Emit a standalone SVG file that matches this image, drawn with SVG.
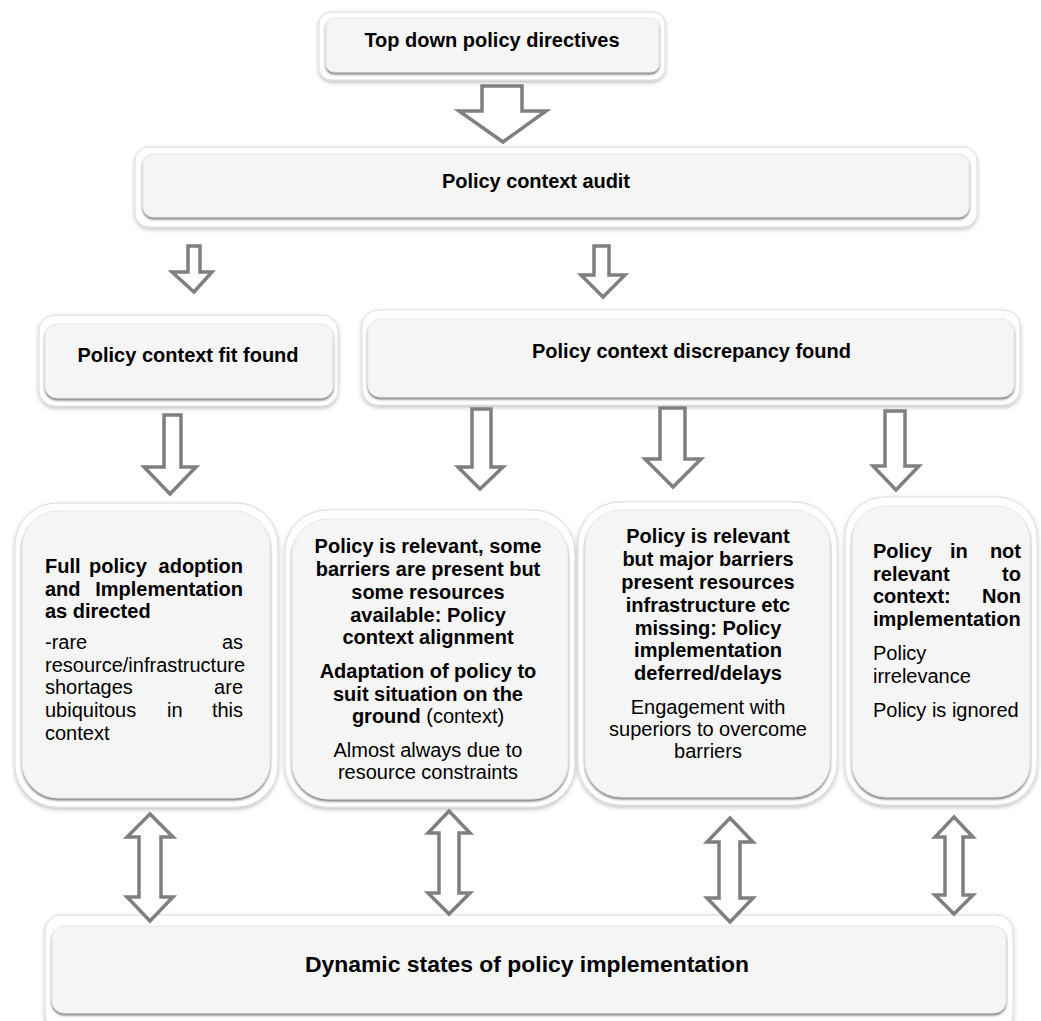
<svg xmlns="http://www.w3.org/2000/svg" width="1041" height="1021" viewBox="0 0 1041 1021">
<defs>
<filter id="outerShadow" x="-10%" y="-10%" width="120%" height="130%">
<feDropShadow dx="0" dy="2" stdDeviation="2" flood-color="#000" flood-opacity="0.25"/>
</filter>
<filter id="innerShadow" x="-5%" y="-5%" width="110%" height="120%">
<feDropShadow dx="0" dy="2" stdDeviation="1" flood-color="#666" flood-opacity="0.85"/>
</filter>
<style>
.outer{fill:#ffffff;stroke:#dcdcdc;stroke-width:1;filter:url(#outerShadow)}
.inner{fill:#f5f5f5;stroke:#e8e8e8;stroke-width:1;filter:url(#innerShadow)}
.arrow{fill:#ffffff;stroke:#7f7f7f;stroke-width:3.5;stroke-linejoin:miter}
text{font-family:"Liberation Sans",Arial,sans-serif;font-size:20px;fill:#000}
.b{font-weight:bold}
.c{text-anchor:middle}
.e{text-anchor:end}
</style>
</defs>
<rect width="1041" height="1021" fill="#ffffff"/>

<g id="node-top">
<rect class="outer" x="319" y="12" width="346" height="68" rx="12"/>
<rect class="inner" x="326" y="18" width="333" height="54" rx="8"/>
<text class="b c" x="492" y="47">Top down policy directives</text>
</g>

<g id="node-audit">
<rect class="outer" x="135" y="147" width="842" height="80" rx="14"/>
<rect class="inner" x="143" y="154" width="826" height="63" rx="10"/>
<text class="b" x="442" y="188" textLength="188">Policy context audit</text>
</g>

<g id="node-fit">
<rect class="outer" x="39" y="315" width="299" height="91" rx="16"/>
<rect class="inner" x="45" y="324" width="288" height="74" rx="12"/>
<text class="b c" x="188" y="362">Policy context fit found</text>
</g>

<g id="node-discrepancy">
<rect class="outer" x="362" y="310" width="658" height="95" rx="16"/>
<rect class="inner" x="368" y="319" width="646" height="78" rx="12"/>
<text class="b" x="532" y="358">Policy context discrepancy found</text>
</g>

<g id="node-full">
<rect class="outer" x="15" y="503" width="263" height="304" rx="42"/>
<rect class="inner" x="22" y="511" width="248" height="287" rx="36"/>
<text class="b" x="45" y="573">Full</text>
<text class="b" x="89" y="573">policy</text>
<text class="b e" x="243" y="573">adoption</text>
<text class="b" x="45" y="596">and</text>
<text class="b e" x="243" y="596">Implementation</text>
<text class="b" x="45" y="618">as directed</text>
<text x="45" y="649">-rare</text>
<text class="e" x="243" y="649">as</text>
<text x="45" y="672">resource/infrastructure</text>
<text x="45" y="694">shortages</text>
<text class="e" x="243" y="694">are</text>
<text x="45" y="717">ubiquitous</text>
<text x="167" y="717">in</text>
<text class="e" x="243" y="717">this</text>
<text x="45" y="740">context</text>
</g>

<g id="node-relevant-some">
<rect class="outer" x="285" y="510" width="290" height="297" rx="42"/>
<rect class="inner" x="292" y="519" width="276" height="280" rx="36"/>
<text class="b c" x="428" y="553">Policy is relevant, some</text>
<text class="b c" x="428" y="576">barriers are present but</text>
<text class="b c" x="428" y="599">some resources</text>
<text class="b c" x="428" y="622">available: Policy</text>
<text class="b c" x="428" y="644">context alignment</text>
<text class="b c" x="428" y="678">Adaptation of policy to</text>
<text class="b c" x="428" y="701">suit situation on the</text>
<text class="c" x="428" y="723"><tspan class="b">ground</tspan> (context)</text>
<text class="c" x="428" y="757">Almost always due to</text>
<text class="c" x="428" y="779">resource constraints</text>
</g>

<g id="node-relevant-major">
<rect class="outer" x="578" y="502" width="259" height="303" rx="42"/>
<rect class="inner" x="585" y="510" width="245" height="287" rx="36"/>
<text class="b c" x="708" y="543">Policy is relevant</text>
<text class="b c" x="708" y="566">but major barriers</text>
<text class="b c" x="708" y="589">present resources</text>
<text class="b c" x="708" y="612">infrastructure etc</text>
<text class="b c" x="708" y="635">missing: Policy</text>
<text class="b c" x="708" y="657">implementation</text>
<text class="b c" x="708" y="680">deferred/delays</text>
<text class="c" x="708" y="714">Engagement with</text>
<text class="c" x="708" y="736">superiors to overcome</text>
<text class="c" x="708" y="758">barriers</text>
</g>

<g id="node-not-relevant">
<rect class="outer" x="845" y="497" width="192" height="308" rx="40"/>
<rect class="inner" x="852" y="506" width="178" height="291" rx="34"/>
<text class="b" x="873" y="558">Policy</text>
<text class="b" x="950" y="558">in</text>
<text class="b e" x="1021" y="558">not</text>
<text class="b" x="873" y="581">relevant</text>
<text class="b e" x="1021" y="581">to</text>
<text class="b" x="873" y="603">context:</text>
<text class="b e" x="1021" y="603">Non</text>
<text class="b" x="873" y="626">implementation</text>
<text x="873" y="660">Policy</text>
<text x="873" y="683">irrelevance</text>
<text x="873" y="717">Policy is ignored</text>
</g>

<g id="node-dynamic">
<rect class="outer" x="45" y="915" width="968" height="115" rx="16"/>
<rect class="inner" x="52" y="926" width="954" height="87" rx="12"/>
<text class="b" x="305" y="972" style="font-size:22px" textLength="444" lengthAdjust="spacingAndGlyphs">Dynamic states of policy implementation</text>
</g>

<g id="connectors">
<path class="arrow" d="M482,86 L522,86 L522,111 L546,111 L503,142 L459,111 L482,111 Z"/>
<path class="arrow" d="M188,246 L200,246 L200,272 L212,272 L194,292 L172,272 L188,272 Z"/>
<path class="arrow" d="M594,246 L609,246 L609,275 L625,275 L603,297 L581,275 L594,275 Z"/>
<path class="arrow" d="M164,415 L181,415 L181,467 L196,467 L170,494 L144,467 L164,467 Z"/>
<path class="arrow" d="M472,409 L491,409 L491,467 L503,467 L480,489 L458,467 L472,467 Z"/>
<path class="arrow" d="M660,408 L685,408 L685,459 L701,459 L673,487 L645,459 L660,459 Z"/>
<path class="arrow" d="M885,411 L905,411 L905,466 L919,466 L896,490 L873,466 L885,466 Z"/>
<path class="arrow" d="M150,814 L173,837 L161,837 L161,897 L173,897 L150,921 L127,897 L139,897 L139,837 L127,837 Z"/>
<path class="arrow" d="M449,811 L470,833 L459,833 L459,893 L470,893 L449,914 L428,893 L439,893 L439,833 L428,833 Z"/>
<path class="arrow" d="M730,818 L753,842 L740,842 L740,898 L753,898 L730,922 L707,898 L719,898 L719,842 L707,842 Z"/>
<path class="arrow" d="M954,817 L973,837 L963,837 L963,895 L973,895 L954,914 L935,895 L945,895 L945,837 L935,837 Z"/>
</g>
</svg>
